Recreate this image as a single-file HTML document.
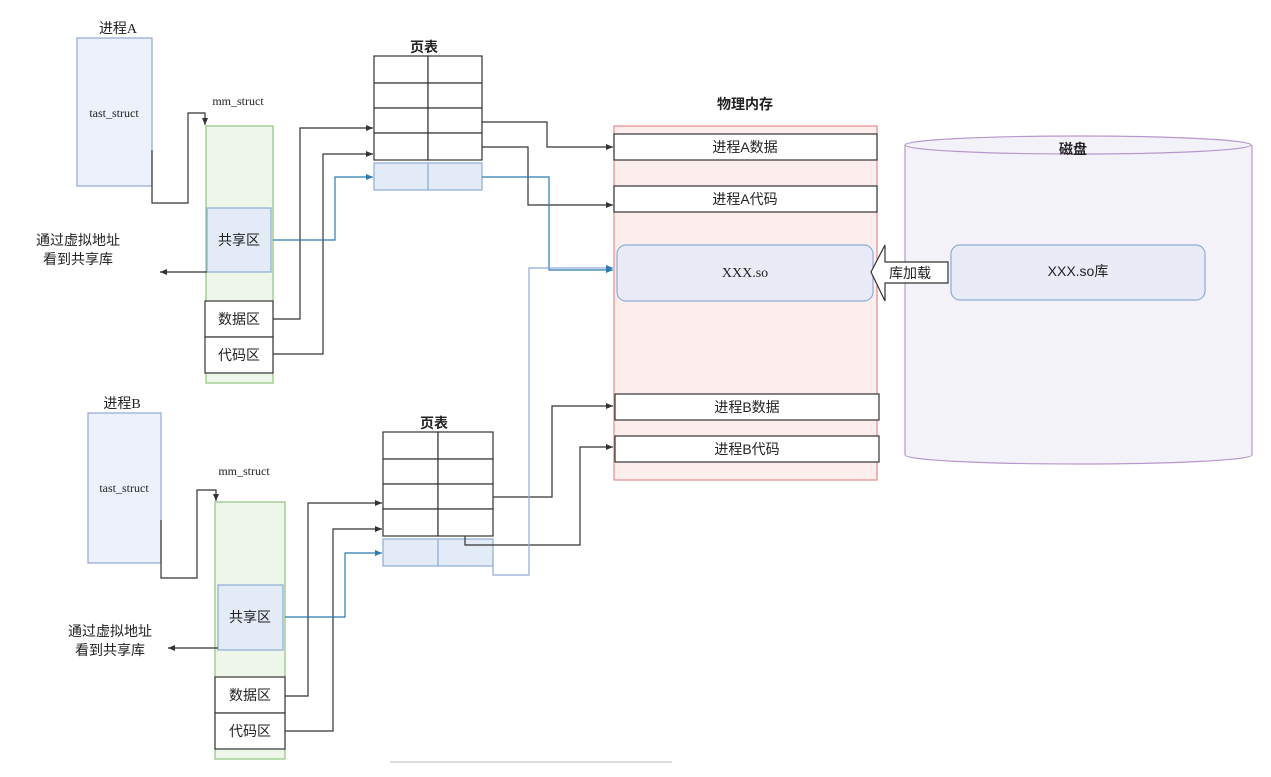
<!DOCTYPE html>
<html><head><meta charset="utf-8"><style>
html,body{margin:0;padding:0;background:#fff;}
svg{display:block;font-family:"Liberation Sans","Noto Sans CJK SC",sans-serif;}
.s{font-family:"Liberation Serif","Noto Sans CJK SC",serif;}
</style></head><body>
<svg width="1271" height="777" viewBox="0 0 1271 777" xmlns="http://www.w3.org/2000/svg">
<defs>
<marker id="a" markerWidth="8" markerHeight="8" refX="7" refY="4" orient="auto" markerUnits="userSpaceOnUse"><path d="M0,1 L7,4 L0,7 z" fill="#333"/></marker>
<marker id="b" markerWidth="8" markerHeight="8" refX="7" refY="4" orient="auto" markerUnits="userSpaceOnUse"><path d="M0,1 L7,4 L0,7 z" fill="#2b7bb0"/></marker>
</defs>
<g fill="none" stroke-width="1.2">
<!-- Process A -->
<rect x="77" y="38" width="75" height="148" fill="#ecf1fb" stroke="#8eabd8"/>
<rect x="206" y="126" width="67" height="257" fill="#eef6ea" stroke="#8fc47c"/>
<rect x="207" y="208" width="64" height="64" fill="#e3ebf6" stroke="#8eabd8"/>
<rect x="205" y="301" width="68" height="36" fill="#fff" stroke="#333"/>
<rect x="205" y="337" width="68" height="36" fill="#fff" stroke="#333"/>
<polyline points="152,150 152,203 188,203 188,113 205,113 205,125" stroke="#333" marker-end="url(#a)"/>
<polyline points="207,272 160,272" stroke="#333" marker-end="url(#a)"/>
<!-- page table A -->
<g stroke="#333" fill="#fff">
<rect x="374" y="56" width="54" height="27"/><rect x="428" y="56" width="54" height="27"/>
<rect x="374" y="83" width="54" height="25"/><rect x="428" y="83" width="54" height="25"/>
<rect x="374" y="108" width="54" height="25"/><rect x="428" y="108" width="54" height="25"/>
<rect x="374" y="133" width="54" height="27"/><rect x="428" y="133" width="54" height="27"/>
</g>
<rect x="374" y="163" width="54" height="27" fill="#e3ebf6" stroke="#8eabd8"/><rect x="428" y="163" width="54" height="27" fill="#e3ebf6" stroke="#8eabd8"/>
<polyline points="273,319 300,319 300,128 373,128" stroke="#333" marker-end="url(#a)"/>
<polyline points="273,354 323,354 323,154 373,154" stroke="#333" marker-end="url(#a)"/>
<polyline points="273,240 335,240 335,177 373,177" stroke="#2b7bb0" marker-end="url(#b)"/>
<polyline points="482,122 547,122 547,147 613,147" stroke="#333" marker-end="url(#a)"/>
<polyline points="482,147 528,147 528,205 613,205" stroke="#333" marker-end="url(#a)"/>
<polyline points="482,177 549,177 549,270 613,270" stroke="#2b7bb0" marker-end="url(#b)"/>
<!-- physical memory -->
<rect x="614" y="126" width="263" height="354" fill="#fdeeee" stroke="#e58a8a"/>
<rect x="614" y="134" width="263" height="26" fill="#fff" stroke="#333"/>
<rect x="614" y="186" width="263" height="26" fill="#fff" stroke="#333"/>
<rect x="617" y="245" width="256" height="56" rx="9" fill="#e9ecf7" stroke="#8eabd8"/>
<rect x="615" y="394" width="264" height="26" fill="#fff" stroke="#333"/>
<rect x="615" y="436" width="264" height="26" fill="#fff" stroke="#333"/>
<!-- disk -->
<path d="M905,145 L905,455 A173,9 0 0 0 1252,455 L1252,145" fill="#f4f2f9" stroke="#b896cc"/>
<ellipse cx="1078" cy="145" rx="173" ry="9" fill="#f4f2f9" stroke="#b896cc"/>
<rect x="951" y="245" width="254" height="55" rx="9" fill="#e9ecf7" stroke="#8eabd8"/>
<path d="M871,272 L885,245 L885,262 L948,262 L948,283 L885,283 L885,301 Z" fill="#fff" stroke="#333"/>
<!-- Process B -->
<rect x="88" y="413" width="73" height="150" fill="#ecf1fb" stroke="#8eabd8"/>
<rect x="215" y="502" width="70" height="257" fill="#eef6ea" stroke="#8fc47c"/>
<rect x="218" y="585" width="65" height="65" fill="#e3ebf6" stroke="#8eabd8"/>
<rect x="215" y="677" width="70" height="36" fill="#fff" stroke="#333"/>
<rect x="215" y="713" width="70" height="36" fill="#fff" stroke="#333"/>
<polyline points="161,520 161,578 197,578 197,490 216,490 216,501" stroke="#333" marker-end="url(#a)"/>
<polyline points="218,648 168,648" stroke="#333" marker-end="url(#a)"/>
<g stroke="#333" fill="#fff">
<rect x="383" y="432" width="55" height="27"/><rect x="438" y="432" width="55" height="27"/>
<rect x="383" y="459" width="55" height="25"/><rect x="438" y="459" width="55" height="25"/>
<rect x="383" y="484" width="55" height="25"/><rect x="438" y="484" width="55" height="25"/>
<rect x="383" y="509" width="55" height="27"/><rect x="438" y="509" width="55" height="27"/>
</g>
<rect x="383" y="539" width="55" height="27" fill="#e3ebf6" stroke="#8eabd8"/><rect x="438" y="539" width="55" height="27" fill="#e3ebf6" stroke="#8eabd8"/>
<polyline points="285,696 308,696 308,503 382,503" stroke="#333" marker-end="url(#a)"/>
<polyline points="285,731 333,731 333,529 382,529" stroke="#333" marker-end="url(#a)"/>
<polyline points="285,617 345,617 345,553 382,553" stroke="#2b7bb0" marker-end="url(#b)"/>
<polyline points="493,497 552,497 552,406 613,406" stroke="#333" marker-end="url(#a)"/>
<polyline points="465,536 465,545 580,545 580,447 613,447" stroke="#333" marker-end="url(#a)"/>
<polyline points="493,555 493,575 529,575 529,268 613,268" stroke="#8eabd8" marker-end="url(#b)"/>
<line x1="390" y1="762" x2="672" y2="762" stroke="#ddd" stroke-width="2"/>
</g>
<g fill="#222" font-size="14">
<text x="118" y="33" text-anchor="middle" class="s">进程A</text>
<text x="114" y="117" text-anchor="middle" class="s" font-size="12">tast_struct</text>
<text x="238" y="105" text-anchor="middle" class="s" font-size="12">mm_struct</text>
<text x="239" y="245" text-anchor="middle">共享区</text>
<text x="239" y="324" text-anchor="middle">数据区</text>
<text x="239" y="360" text-anchor="middle">代码区</text>
<text x="78" y="245" text-anchor="middle">通过虚拟地址</text>
<text x="78" y="264" text-anchor="middle">看到共享库</text>
<text x="424" y="52" text-anchor="middle" font-weight="bold">页表</text>
<text x="745" y="109" text-anchor="middle" font-weight="bold">物理内存</text>
<text x="745" y="152" text-anchor="middle">进程A数据</text>
<text x="745" y="204" text-anchor="middle">进程A代码</text>
<text x="745" y="277" text-anchor="middle" class="s">XXX.so</text>
<text x="747" y="412" text-anchor="middle">进程B数据</text>
<text x="747" y="454" text-anchor="middle">进程B代码</text>
<text x="1073" y="154" text-anchor="middle" font-weight="bold">磁盘</text>
<text x="1078" y="276" text-anchor="middle">XXX.so库</text>
<text x="910" y="278" text-anchor="middle">库加载</text>
<text x="122" y="408" text-anchor="middle" class="s">进程B</text>
<text x="124" y="492" text-anchor="middle" class="s" font-size="12">tast_struct</text>
<text x="244" y="475" text-anchor="middle" class="s" font-size="12">mm_struct</text>
<text x="250" y="622" text-anchor="middle">共享区</text>
<text x="250" y="700" text-anchor="middle">数据区</text>
<text x="250" y="736" text-anchor="middle">代码区</text>
<text x="110" y="636" text-anchor="middle">通过虚拟地址</text>
<text x="110" y="655" text-anchor="middle">看到共享库</text>
<text x="434" y="428" text-anchor="middle" font-weight="bold">页表</text>
</g>
</svg>
</body></html>
